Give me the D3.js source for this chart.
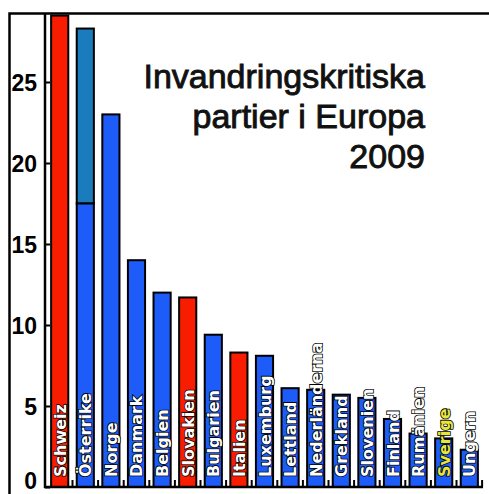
<!DOCTYPE html>
<html>
<head>
<meta charset="utf-8">
<script src="https://cdn.jsdelivr.net/npm/d3@7"></script>
<style>
  body { margin: 0; background: #fff; }
  svg { display: block; }
</style>
</head>
<body>
<div id="chart"></div>
<script>
// data
var countries = ["Schweiz", "Österrike", "Norge", "Danmark", "Belgien", "Slovakien",
  "Bulgarien", "Italien", "Luxemburg", "Lettland", "Nederländerna", "Grekland",
  "Slovenien", "Finland", "Rumänien", "Sverige", "Ungern"];
var mainValues = [29.1, 17.5, 23.0, 14.0, 12.0, 11.7, 9.4, 8.3, 8.1, 6.1, 6.0, 5.7, 5.5, 4.2, 3.3, 3.0, 2.3];
var extraValues = [0, 10.8, 0, 0, 0, 0, 0, 0, 0, 0, 0, 0, 0, 0, 0, 0, 0];
var barKind = ["red", "blue", "blue", "blue", "blue", "red", "blue", "red", "blue",
  "blue", "blue", "blue", "blue", "blue", "blue", "blue", "blue"];
var yTicks = [0, 5, 10, 15, 20, 25];
var titleLines = ["Invandringskritiska", "partier i Europa", "2009"];

var width = 489, height = 494;
var colors = { red: "#f81c00", blue: "#1d5cf8", extra: "#1a7cbc" };

var svg = d3.select("#chart").append("svg")
  .attr("width", width)
  .attr("height", height);

svg.append("rect").attr("width", width).attr("height", height).attr("fill", "#fff");

// outer frame (left and top edges visible)
svg.append("path")
  .attr("d", "M9.5," + height + "V13.5H" + width)
  .attr("fill", "none")
  .attr("stroke", "#000")
  .attr("stroke-width", 2.5);

var x = d3.scaleBand()
  .domain(countries)
  .range([46, 483])
  .paddingInner(0.33)
  .paddingOuter(0.2);

var y = d3.scaleLinear()
  .domain([0, 25])
  .range([487, 82]);

var data = countries.map(function(c, i) {
  return { name: c, main: mainValues[i], extra: extraValues[i], kind: barKind[i] };
});

// bars
var bars = svg.append("g").attr("class", "bars");

bars.selectAll("rect.extra")
  .data(data.filter(function(d) { return d.extra > 0; }))
  .enter().append("rect")
  .attr("class", "extra")
  .attr("x", function(d) { return x(d.name); })
  .attr("width", x.bandwidth())
  .attr("y", function(d) { return y(d.main + d.extra); })
  .attr("height", function(d) { return y(d.main) - y(d.main + d.extra); })
  .attr("fill", colors.extra)
  .attr("stroke", "#000")
  .attr("stroke-width", 2);

bars.selectAll("rect.main")
  .data(data)
  .enter().append("rect")
  .attr("class", "main")
  .attr("x", function(d) { return x(d.name); })
  .attr("width", x.bandwidth())
  .attr("y", function(d) { return y(d.main); })
  .attr("height", function(d) { return y(0) - y(d.main); })
  .attr("fill", function(d) { return colors[d.kind]; })
  .attr("stroke", "#000")
  .attr("stroke-width", 2);

// bar labels, written upwards inside the bars
bars.selectAll("text")
  .data(data)
  .enter().append("text")
  .attr("transform", function(d) {
    var cx = x(d.name) + x.bandwidth() / 2 + 6;
    return "translate(" + cx + "," + (y(0) - 10) + ")rotate(-90)";
  })
  .attr("font-family", "DejaVu Sans")
  .attr("font-weight", "bold")
  .attr("font-size", 16)
  .attr("fill", function(d) { return d.name === "Sverige" ? "#e6e63c" : "#fff"; })
  .attr("stroke", "#000")
  .attr("stroke-width", 1.6)
  .attr("paint-order", "stroke")
  .text(function(d) { return d.name; });

// y axis
var yAxis = d3.axisLeft(y).tickValues(yTicks).tickSize(-5).tickPadding(8);
var gy = svg.append("g")
  .attr("transform", "translate(45,0)")
  .call(yAxis);
gy.select(".domain").remove();
gy.selectAll("line").attr("stroke", "#000").attr("stroke-width", 2);
gy.selectAll("text")
  .attr("font-family", "Liberation Sans")
  .attr("font-weight", "bold")
  .attr("font-size", 23)
  .attr("fill", "#000")
  .attr("dy", function(d) { return d === 0 ? "0.05em" : "0.36em"; });

svg.append("line")
  .attr("x1", 45).attr("x2", 45)
  .attr("y1", 13).attr("y2", y(0) + 1)
  .attr("stroke", "#000").attr("stroke-width", 2.5);

// x axis with small ticks between bars
svg.append("line")
  .attr("x1", 44).attr("x2", 483)
  .attr("y1", y(0)).attr("y2", y(0))
  .attr("stroke", "#000").attr("stroke-width", 2.5);

var gaps = countries.map(function(c) { return x(c) + x.bandwidth() + x.step() * 0.33 / 2; });
svg.append("g").selectAll("line")
  .data(gaps)
  .enter().append("line")
  .attr("x1", function(d) { return d; })
  .attr("x2", function(d) { return d; })
  .attr("y1", y(0))
  .attr("y2", y(0) - 7)
  .attr("stroke", "#000")
  .attr("stroke-width", 2);

// title
svg.append("g").selectAll("text")
  .data(titleLines)
  .enter().append("text")
  .attr("x", 425)
  .attr("y", function(d, i) { return 88 + i * 40; })
  .attr("text-anchor", "end")
  .attr("font-family", "Liberation Sans")
  .attr("font-size", 34)
  .attr("fill", "#111")
  .attr("stroke", "#111")
  .attr("stroke-width", 0.9)
  .text(function(d) { return d; });
</script>
</body>
</html>
